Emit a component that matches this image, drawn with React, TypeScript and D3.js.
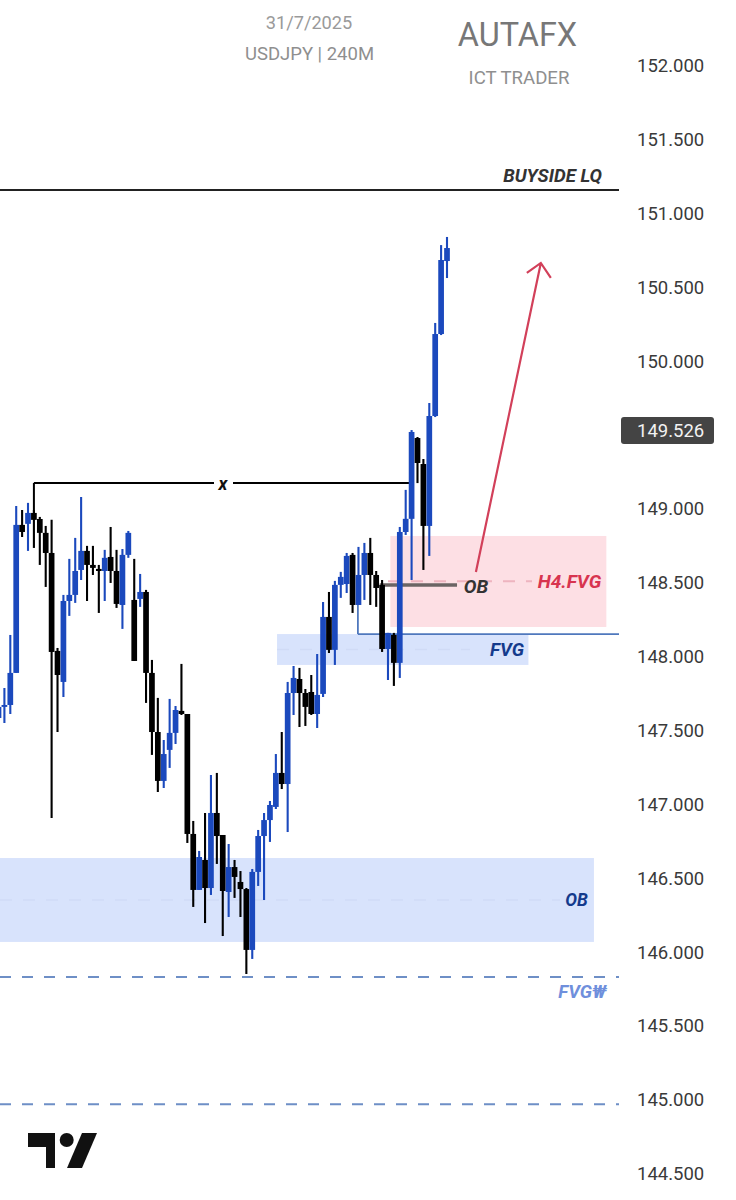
import React, { useEffect, useRef } from 'react';
import * as d3 from 'd3';

// USDJPY 240M candles
const opens = [
  147.58, 147.655, 147.668, 147.885, 148.887, 148.894, 148.968, 148.927, 148.833, 148.697,
  148.034, 147.824, 148.372, 148.413, 148.582, 148.711, 148.616, 148.589, 148.575, 148.67,
  148.575, 148.345, 148.684, 148.379, 148.386, 148.433, 147.885, 147.485, 147.154, 147.364,
  147.479, 147.628, 147.607, 146.795, 146.416, 146.619, 146.429, 146.937, 146.788, 146.402,
  146.571, 146.47, 146.422, 146.01, 146.538, 146.781, 146.889, 146.978, 147.208, 147.133,
  147.749, 147.844, 147.749, 147.756, 147.607, 147.743, 148.264, 148.041, 148.481, 148.487,
  148.684, 148.345, 148.548, 148.697, 148.548, 148.481, 148.047, 148.142, 147.953, 148.839,
  148.928, 149.475, 149.299, 148.88, 149.624, 150.179, 150.673,
];
const closes = [
  147.655, 147.668, 147.885, 148.887, 148.839, 148.968, 148.921, 148.833, 148.697, 148.027,
  147.871, 148.372, 148.413, 148.575, 148.711, 148.616, 148.596, 148.575, 148.664, 148.575,
  148.352, 148.684, 148.833, 147.966, 148.433, 147.885, 147.485, 147.154, 147.336, 147.479,
  147.634, 147.607, 146.795, 146.416, 146.639, 146.429, 146.937, 146.781, 146.409, 146.571,
  146.504, 146.422, 146.01, 146.538, 146.781, 146.889, 146.991, 147.208, 147.133, 147.749,
  147.851, 147.749, 147.655, 147.607, 147.736, 148.264, 148.041, 148.481, 148.535, 148.677,
  148.345, 148.548, 148.697, 148.548, 148.46, 148.047, 148.156, 147.953, 148.839, 148.928,
  149.516, 149.306, 148.88, 149.624, 150.179, 150.68, 150.761,
];
const highs = [
  147.661, 147.783, 148.142, 149.015, 148.988, 149.036, 148.988, 148.941, 148.88, 148.921,
  148.054, 148.413, 148.657, 148.799, 149.076, 148.745, 148.745, 148.616, 148.718, 148.873,
  148.718, 148.724, 148.846, 148.657, 148.555, 148.447, 147.973, 147.716, 147.431, 147.709,
  147.661, 147.946, 147.607, 146.883, 146.68, 146.937, 147.194, 147.208, 146.788, 146.727,
  146.619, 146.544, 146.429, 146.558, 146.822, 146.937, 147.018, 147.336, 147.485, 147.824,
  147.932, 147.919, 147.776, 147.871, 148.013, 148.365, 148.433, 148.508, 148.569, 148.697,
  148.697, 148.738, 148.765, 148.799, 148.575, 148.514, 148.156, 148.156, 148.873, 149.124,
  149.529, 149.482, 149.333, 149.712, 150.254, 150.781, 150.836,
];
const lows = [
  147.58, 147.546, 147.607, 147.885, 148.805, 148.711, 148.731, 148.616, 148.467, 146.903,
  147.485, 147.722, 148.271, 148.359, 148.514, 148.372, 148.548, 148.291, 148.372, 148.494,
  148.325, 148.183, 148.664, 147.966, 148.332, 147.682, 147.33, 147.079, 147.106, 147.242,
  147.404, 147.6, 146.734, 146.301, 146.416, 146.192, 146.382, 146.592, 146.104, 146.233,
  146.362, 146.233, 145.847, 145.949, 146.443, 146.348, 146.741, 146.964, 147.099, 146.808,
  147.6, 147.519, 147.526, 147.6, 147.512, 147.722, 148.02, 147.939, 148.393, 148.426,
  148.291, 148.345, 148.379, 148.345, 148.332, 148.027, 147.837, 147.797, 147.851, 148.819,
  148.514, 149.17, 148.582, 148.677, 149.617, 150.172, 150.558,
];

const priceTicks = [
  152, 151.5, 151, 150.5, 150, 149, 148.5, 148, 147.5, 147, 146.5, 146, 145.5, 145, 144.5,
];
const currentPrice = 149.526;

// [from bar, to bar, top price, bottom price]
const h4FvgZone = [66.4, 103, 148.812, 148.196];
const fvgZone = [47.2, 89.8, 148.148, 147.939];
const obZone = [-1, 100.9, 146.632, 146.064];

const buysideLevel = 151.154;
const breakLevel = 149.171;
const breakBars = [6, 69.7];
const fvgLevel = 148.148;
const fvgLevelStartBar = 60.9;
const fvgLevelStartPrice = 148.345;
const obLevel = 148.48;
const obLevelBars = [64.6, 77.7];
const h4Mid = 148.505;
const fvgMid = 148.043;
const obMid = 146.348;
const dashedLevels = [145.827, 144.966];
const arrowFrom = [80.9, 148.568];
const arrowTo = [91.9, 150.66];

const BLUE = '#1b49bd';
const BLACK = '#000000';
const ZONE_BLUE = '#d8e3fc';
const ZONE_PINK = '#fddfe4';
const FONT = 'Roboto, sans-serif';

const App = () => {
  const svgRef = useRef(null);

  useEffect(() => {
    const svg = d3.select(svgRef.current);
    svg.selectAll('*').remove();

    const x = d3.scaleLinear().domain([0, 76]).range([-1.5, 447]);
    const y = d3.scaleLinear().domain([152, 144.5]).range([65, 1173]);
    const bars = d3.range(opens.length);
    const chartRight = 619;

    // Zones
    const zones = [
      { z: h4FvgZone, fill: ZONE_PINK },
      { z: fvgZone, fill: ZONE_BLUE },
      { z: obZone, fill: ZONE_BLUE },
    ];
    svg
      .append('g')
      .selectAll('rect')
      .data(zones)
      .join('rect')
      .attr('x', (d) => x(d.z[0]))
      .attr('y', (d) => y(d.z[2]))
      .attr('width', (d) => x(d.z[1]) - x(d.z[0]))
      .attr('height', (d) => y(d.z[3]) - y(d.z[2]))
      .attr('fill', (d) => d.fill);

    // Faint mid lines of the zones
    const hline = (x1, x2, price, color, width, dash) =>
      svg
        .append('line')
        .attr('x1', x1)
        .attr('x2', x2)
        .attr('y1', y(price))
        .attr('y2', y(price))
        .attr('stroke', color)
        .attr('stroke-width', width)
        .attr('stroke-dasharray', dash);

    hline(x(66), 532, h4Mid, '#eeb4bf', 2, '12 11');
    hline(x(47.2), 470, fvgMid, '#d0dbf6', 1.5, '12 11');
    hline(0, 560, obMid, '#d0dbf6', 1.5, '12 11');

    // Levels
    hline(0, chartRight, buysideLevel, '#222222', 1.8, null);
    dashedLevels.forEach((p) => hline(0, chartRight, p, '#6e8fc6', 2, '11 11'));
    hline(x(fvgLevelStartBar), chartRight, fvgLevel, '#4f78bd', 1.8, null);
    svg
      .append('line')
      .attr('x1', x(fvgLevelStartBar))
      .attr('x2', x(fvgLevelStartBar))
      .attr('y1', y(fvgLevelStartPrice))
      .attr('y2', y(fvgLevel))
      .attr('stroke', '#4f78bd')
      .attr('stroke-width', 1.8);
    hline(x(obLevelBars[0]), x(obLevelBars[1]), obLevel, '#6b6464', 3.4, null);

    // Break of structure, split around its "x" label
    hline(x(breakBars[0]), 214, breakLevel, '#000000', 2, null);
    hline(233, x(breakBars[1]), breakLevel, '#000000', 2, null);
    svg
      .append('line')
      .attr('x1', x(breakBars[0]))
      .attr('x2', x(breakBars[0]))
      .attr('y1', y(breakLevel))
      .attr('y2', y(148.968))
      .attr('stroke', '#000000')
      .attr('stroke-width', 2);

    // Candles
    const candles = svg.append('g');
    const color = (i) => (closes[i] >= opens[i] ? BLUE : BLACK);
    candles
      .selectAll('line')
      .data(bars)
      .join('line')
      .attr('x1', (i) => x(i))
      .attr('x2', (i) => x(i))
      .attr('y1', (i) => y(highs[i]))
      .attr('y2', (i) => y(lows[i]))
      .attr('stroke', color)
      .attr('stroke-width', 2.1);
    candles
      .selectAll('rect')
      .data(bars)
      .join('rect')
      .attr('x', (i) => x(i) - 2.85)
      .attr('width', 5.7)
      .attr('y', (i) => y(Math.max(opens[i], closes[i])))
      .attr('height', (i) => Math.max(1.5, Math.abs(y(opens[i]) - y(closes[i]))))
      .attr('fill', color);

    // Red arrow
    const tipX = x(arrowTo[0]);
    const tipY = y(arrowTo[1]);
    svg
      .append('path')
      .attr(
        'd',
        `M${x(arrowFrom[0])},${y(arrowFrom[1])}L${tipX},${tipY}M${tipX - 14},${tipY + 10}L${tipX},${tipY}L${tipX + 10},${tipY + 15}`,
      )
      .attr('fill', 'none')
      .attr('stroke', '#d2405a')
      .attr('stroke-width', 2.2);

    // Price axis
    const axis = svg
      .append('g')
      .attr('transform', 'translate(637,0.8)')
      .call(
        d3
          .axisRight(y)
          .tickValues(priceTicks)
          .tickFormat(d3.format('.3f'))
          .tickSize(0)
          .tickPadding(0),
      );
    axis.select('.domain').remove();
    axis
      .selectAll('text')
      .style('font-family', FONT)
      .style('font-size', '18.5px')
      .style('fill', '#3a3a3a');

    // Last price badge
    svg
      .append('rect')
      .attr('x', 621)
      .attr('y', y(currentPrice) - 13.5)
      .attr('width', 93)
      .attr('height', 27)
      .attr('rx', 3)
      .attr('fill', '#444444');
    svg
      .append('text')
      .attr('x', 637)
      .attr('y', y(currentPrice))
      .attr('dy', '0.35em')
      .style('font-family', FONT)
      .style('font-size', '18.5px')
      .style('fill', '#f2f2f2')
      .text(d3.format('.3f')(currentPrice));

    // Texts
    const label = (tx, ty, text, size, fill, anchor = 'middle', italic = false) =>
      svg
        .append('text')
        .attr('x', tx)
        .attr('y', ty)
        .attr('dy', '0.35em')
        .attr('text-anchor', anchor)
        .style('font-family', FONT)
        .style('font-size', `${size}px`)
        .style('font-weight', italic ? 700 : 400)
        .style('font-style', italic ? 'italic' : 'normal')
        .style('fill', fill)
        .text(text);

    label(309, 23, '31/7/2025', 18.2, '#9a9a9a');
    label(309.5, 54, 'USDJPY | 240M', 18.5, '#8f8f8f');
    label(517.5, 35, 'AUTAFX', 32.4, '#777777');
    label(519, 77, 'ICT TRADER', 18.6, '#8f8f8f');
    label(602, 175, 'BUYSIDE LQ', 18.6, '#333333', 'end', true);
    label(223, 484, 'x', 18, '#111111', 'middle', true);
    label(476, 586, 'OB', 19, '#333333', 'middle', true);
    label(569.5, 581, 'H4.FVG', 19, '#d8344f', 'middle', true);
    label(507, 649, 'FVG', 18.6, '#143a8c', 'middle', true);
    label(576.5, 900, 'OB', 17.5, '#143a8c', 'middle', true);
    label(582.5, 992, 'FVG₩', 18.5, '#6f8fdc', 'middle', true);

    // TradingView mark
    const logo = svg.append('g').attr('fill', '#111111');
    logo.append('path').attr('d', 'M28,1133H55V1168H46V1147H28Z');
    logo.append('circle').attr('cx', 66.7).attr('cy', 1140).attr('r', 7);
    logo.append('path').attr('d', 'M82,1133H97L82,1168H67Z');
  }, []);

  return (
    <svg
      ref={svgRef}
      width={736}
      height={1200}
      style={{ position: 'absolute', left: 0, top: 0, background: '#ffffff' }}
    />
  );
};

export default App;
